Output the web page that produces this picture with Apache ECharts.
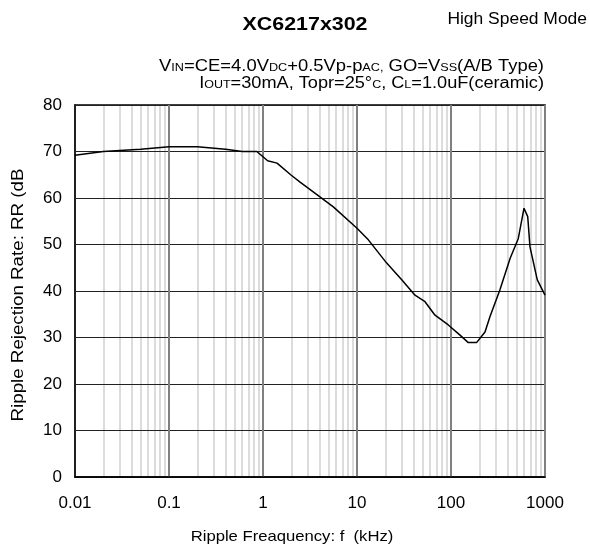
<!DOCTYPE html>
<html>
<head>
<meta charset="utf-8">
<script src="https://cdn.jsdelivr.net/npm/echarts@6/dist/echarts.min.js"></script>
<style>
  html, body { margin: 0; padding: 0; background: #fff; }
  #chart { width: 590px; height: 546px; }
</style>
</head>
<body>
<div id="chart"></div>
<script>
// Ripple rejection vs. ripple frequency, XC6217x302 in high speed mode
const freqKHz = [0.01, 0.02, 0.05, 0.1, 0.2, 0.4, 0.6, 0.86, 1.12, 1.41, 2.0, 2.48, 4.0, 5.6,
  10, 13.2, 20.7, 29.9, 41.4, 52.9, 67.6, 93.6, 124.7, 152.8, 187, 230, 260, 331, 425, 520,
  598, 655, 692, 828, 1000];
const rejectionDB = [69.2, 70.0, 70.5, 71.0, 71.0, 70.5, 70.0, 70.0, 68.0, 67.5, 64.9, 63.4, 60.3, 58.1,
  53.5, 51.0, 46.0, 42.4, 39.1, 37.7, 34.8, 32.7, 30.5, 28.9, 28.9, 31.2, 34.5, 40.2, 47.0, 51.3,
  57.8, 56.0, 49.5, 42.4, 39.1];

const xTickLabels = ['0.01', '0.1', '1', '10', '100', '1000'];
const yTicks = [0, 10, 20, 30, 40, 50, 60, 70, 80];

// light vertical lines at 2..9 within each decade
const decades = [0.01, 0.1, 1, 10, 100];
const minorGrid = [];
decades.forEach(d => { for (let k = 2; k <= 9; k++) minorGrid.push(+(d * k).toPrecision(3)); });

const FONT = '"Liberation Sans", Arial, sans-serif';

const chart = echarts.init(document.getElementById('chart'), null, { renderer: 'canvas' });

const headerRich = {
  n: { fontFamily: FONT, fontSize: 16, lineHeight: 18, verticalAlign: 'bottom', fill: '#000' },
  s: { fontFamily: FONT, fontSize: 11, lineHeight: 18, verticalAlign: 'bottom', fill: '#000', padding: [0, 0, 2, 0] }
};

chart.setOption({
  backgroundColor: '#fff',
  animation: false,
  grid: { left: 75, right: 45, top: 105, bottom: 69, show: true, borderColor: '#000', borderWidth: 1.5, containLabel: false },
  xAxis: {
    type: 'log', logBase: 10, min: 0.01, max: 1000,
    axisLine: { show: true, lineStyle: { color: '#000', width: 1.5 } },
    axisTick: { show: false },
    axisLabel: {
      margin: 18, color: '#000', fontFamily: FONT, fontSize: 17,
      formatter: v => {
        const i = Math.round(Math.log10(v)) + 2;
        return xTickLabels[i] !== undefined ? xTickLabels[i] : '';
      }
    },
    splitLine: { show: true, lineStyle: { color: '#808080', width: 2 } }
  },
  yAxis: {
    type: 'value', min: yTicks[0], max: yTicks[yTicks.length - 1], interval: 10,
    axisLine: { show: true, lineStyle: { color: '#000', width: 1.5 } },
    axisTick: { show: false },
    axisLabel: { margin: 13, color: '#000', fontFamily: FONT, fontSize: 17 },
    splitLine: { show: true, lineStyle: { color: '#222', width: 1 } }
  },
  series: [
    {
      type: 'line',
      data: [],
      silent: true,
      markLine: {
        z: -1,
        silent: true,
        symbol: 'none',
        label: { show: false },
        lineStyle: { color: '#d0d0d0', width: 1.5, type: 'solid' },
        data: minorGrid.map(v => ({ xAxis: v }))
      }
    },
    {
      type: 'line',
      data: freqKHz.map((f, i) => [f, rejectionDB[i]]),
      showSymbol: false,
      symbol: 'none',
      lineStyle: { color: '#000', width: 1.5 },
      z: 5
    }
  ],
  graphic: [
    {
      type: 'text', x: 305, y: 25, scaleX: 1.19,
      style: { text: 'XC6217x302', fontFamily: FONT, fontWeight: 'bold', fontSize: 18, fill: '#000', align: 'center', verticalAlign: 'middle' }
    },
    {
      type: 'text', x: 587, y: 20, scaleX: 1.09,
      style: { text: 'High Speed Mode', fontFamily: FONT, fontSize: 16, fill: '#000', align: 'right', verticalAlign: 'middle' }
    },
    {
      type: 'text', x: 544, y: 57, scaleX: 1.15,
      style: {
        text: '{n|V}{s|IN}{n|=CE=4.0V}{s|DC}{n|+0.5Vp-p}{s|AC}{s|,}{n| GO=V}{s|SS}{n|(A/B Type)}',
        align: 'right', verticalAlign: 'top', fill: '#000', rich: headerRich
      }
    },
    {
      type: 'text', x: 544, y: 74, scaleX: 1.135,
      style: {
        text: '{n|I}{s|OUT}{n|=30mA, Topr=25°}{s|C}{n|, C}{s|L}{n|=1.0uF(ceramic)}',
        align: 'right', verticalAlign: 'top', fill: '#000', rich: headerRich
      }
    },
    {
      type: 'text', x: 19, y: 295, rotation: Math.PI / 2, scaleX: 1.17,
      style: { text: 'Ripple Rejection Rate: RR (dB', fontFamily: FONT, fontSize: 16, fill: '#000', align: 'center', verticalAlign: 'middle' }
    },
    {
      type: 'text', x: 292, y: 537, scaleX: 1.11,
      style: { text: 'Ripple Freaquency: f  (kHz)', fontFamily: FONT, fontSize: 15, fill: '#000', align: 'center', verticalAlign: 'middle' }
    }
  ]
});
</script>
</body>
</html>
